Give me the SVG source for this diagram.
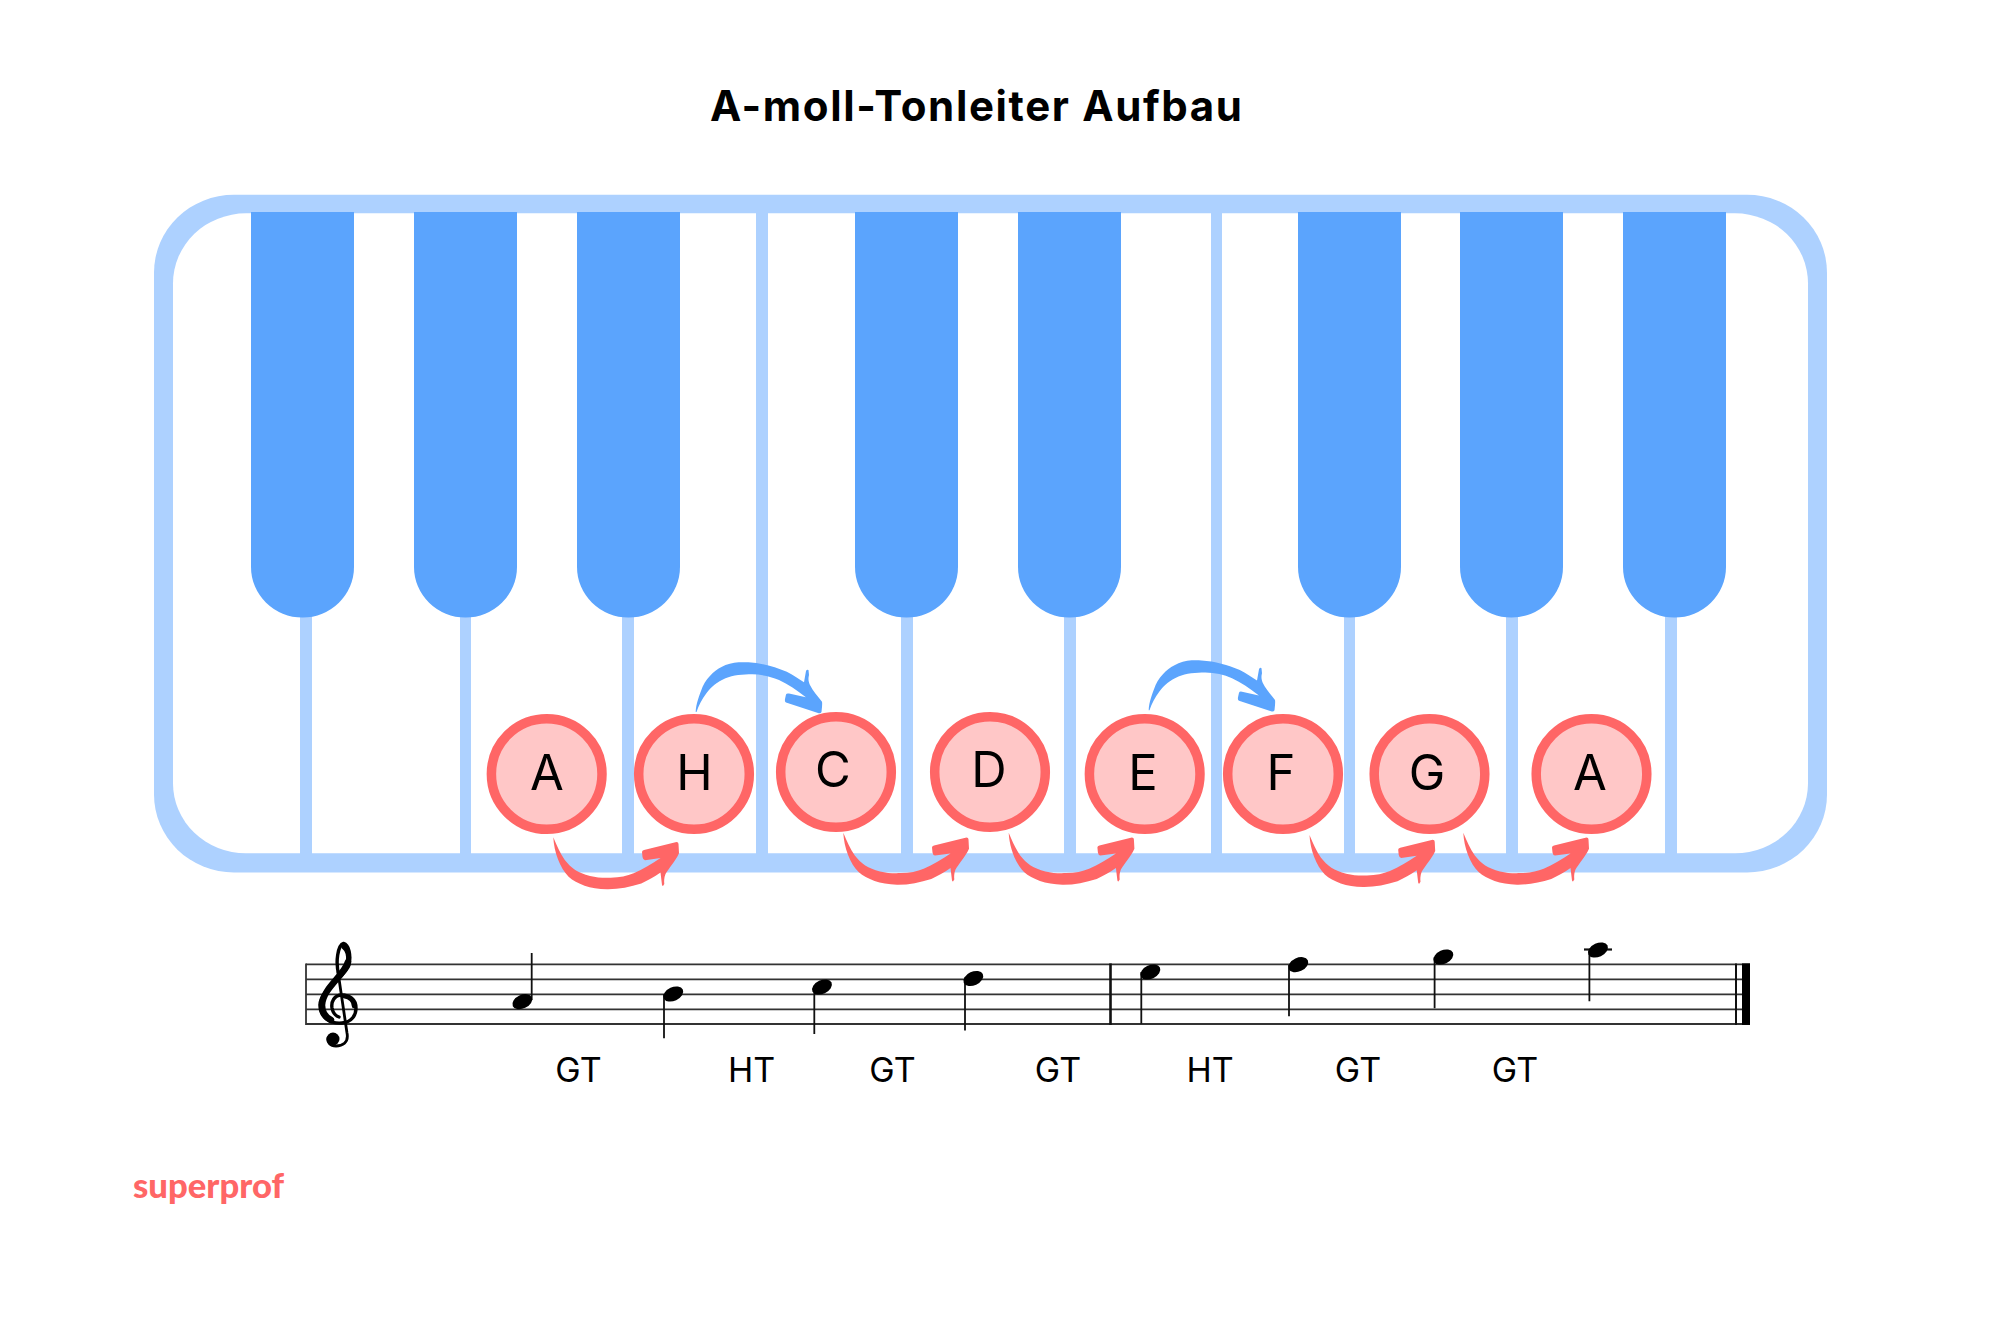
<svg xmlns="http://www.w3.org/2000/svg" width="1995" height="1332" viewBox="0 0 1995 1332">
<style>
text{font-family:"Inter","Liberation Sans",sans-serif;fill:#000}
.title{font-size:42px;font-weight:700;text-anchor:middle}
.note{font-size:49px;text-anchor:middle}
.step{font-size:34px;text-anchor:middle}
.logo{font-family:"Lato","Liberation Sans",sans-serif;font-size:35px;font-weight:900;fill:#ff6666}
.div{fill:#add1ff}
.key{fill:#5ba4fd}
.circ{fill:#ffc7c7;stroke:#ff6666;stroke-width:9.5}
.staff{stroke:#333;stroke-width:1.8;fill:none}
.stem{stroke:#111;stroke-width:1.8}
.head{fill:#000}
.clef{fill:none;stroke:#000;stroke-linecap:round;stroke-linejoin:round}
</style>
<defs>
<path id="red" fill="#ff6666" d="M553.3 837.3C557 846 560 853 564.8 860C571 868 578 873 590 876C597 877.7 604 878 610.7 877.7C620 877.5 627 876 633.7 873.3C643 869 652 864 660.5 858L645 860.2Q643 860 642.5 857L642 852Q642 850.7 644 850L676.5 842Q678.5 842 678.5 844L679 853.3C675 862 669 868 665.5 874C664 878 664 881 664.3 884L663 886Q662.4 886 662 885L660.5 872.5C654 877 648 880 641.3 883.5C630 887 618 889.5 607 889.3C590 889 577 884 568.6 876.7C560 868 554 852 553.3 837.3Z"/>
<path id="blue" fill="#5ba4fd" d="M695.7 712C696 704 699 696 702.6 686.7C708 676 716 669 725.5 665C733 662 741 662 748.5 662.3C762 663 775 667 786.8 671.7C793 675 799 679 804 682.3L806 671Q807 669 808.5 670L809 675C808 679 808.5 681 809.7 684.5C813 691 817.5 696 822 701.7Q822.5 704 821.5 712Q820.5 714 818 713L786 702.5Q784.5 702 785 699L786 694.5Q786.5 693 789 693.5L805.9 697.3C797 690 788 684.5 779 680C771 676.5 762 674.5 752.3 674.3C743 674.5 733 675 725.5 678.3C717 682 711 687 706.4 693.3C702 699 698.5 706 696.5 712Z"/>
</defs>
<rect width="1995" height="1332" fill="#fff"/>
<g id="title"><text class="title" x="976" y="121" textLength="532">A-moll-Tonleiter Aufbau</text></g>
<g id="keyboard">
<rect x="154" y="194.7" width="1673" height="677.8" rx="80" ry="78" fill="#add1ff"/>
<rect x="173" y="213.3" width="1635" height="640" rx="73" ry="70" fill="#fff"/>
<rect class="div" x="300" y="610" width="12" height="245"/>
<rect class="div" x="460" y="610" width="11" height="245"/>
<rect class="div" x="622" y="610" width="12" height="245"/>
<rect class="div" x="756" y="212" width="12" height="643"/>
<rect class="div" x="901" y="610" width="12" height="245"/>
<rect class="div" x="1064" y="610" width="12" height="245"/>
<rect class="div" x="1211" y="212" width="11" height="643"/>
<rect class="div" x="1344" y="610" width="11" height="245"/>
<rect class="div" x="1506" y="610" width="12" height="245"/>
<rect class="div" x="1665" y="610" width="12" height="245"/>
<path class="key" d="M251 212H354V567A51.5 50.5 0 0 1 251 567Z"/>
<path class="key" d="M414 212H517V567A51.5 50.5 0 0 1 414 567Z"/>
<path class="key" d="M577 212H680V567A51.5 50.5 0 0 1 577 567Z"/>
<path class="key" d="M855 212H958V567A51.5 50.5 0 0 1 855 567Z"/>
<path class="key" d="M1018 212H1121V567A51.5 50.5 0 0 1 1018 567Z"/>
<path class="key" d="M1298 212H1401V567A51.5 50.5 0 0 1 1298 567Z"/>
<path class="key" d="M1460 212H1563V567A51.5 50.5 0 0 1 1460 567Z"/>
<path class="key" d="M1623 212H1726V567A51.5 50.5 0 0 1 1623 567Z"/>
</g>
<g id="note-a1"><circle class="circ" cx="546.7" cy="774" r="55.3"/><text class="note" x="547" y="790">A</text></g>
<g id="note-h"><circle class="circ" cx="694" cy="774" r="55.3"/><text class="note" x="694.5" y="790">H</text></g>
<g id="note-c"><circle class="circ" cx="836" cy="772" r="55.3"/><text class="note" x="833" y="786.7">C</text></g>
<g id="note-d"><circle class="circ" cx="990" cy="772" r="55.3"/><text class="note" x="989" y="786.7">D</text></g>
<g id="note-e"><circle class="circ" cx="1144.7" cy="774" r="55.3"/><text class="note" x="1143" y="790">E</text></g>
<g id="note-f"><circle class="circ" cx="1283" cy="774" r="55.3"/><text class="note" x="1281" y="790">F</text></g>
<g id="note-g"><circle class="circ" cx="1429.5" cy="774" r="55.3"/><text class="note" x="1427" y="790">G</text></g>
<g id="note-a2"><circle class="circ" cx="1591.5" cy="774" r="55.3"/><text class="note" x="1590" y="790">A</text></g>
<g id="connectors">
<use href="#red"/>
<use href="#red" x="290" y="-4.6"/>
<use href="#red" x="455.4" y="-4.6"/>
<use href="#red" x="756.2" y="-2.3"/>
<use href="#red" x="910" y="-4.6"/>
<use href="#blue"/>
<use href="#blue" x="453" y="-1.8"/>
</g>
<g id="staff">
<path class="staff" d="M306 964.3H1750M306 979.3H1750M306 994.3H1750M306 1009.3H1750M306 1024H1750"/>
<path class="staff" d="M306 963.4V1024.9"/>
<path class="staff" style="stroke:#111;stroke-width:2.6" d="M1110.5 963.4V1024.9"/>
<path class="staff" style="stroke:#111;stroke-width:2" d="M1736 963.4V1024.9"/>
<rect x="1742" y="963.4" width="8" height="61.5" fill="#000"/>
<g id="clef">
<path class="clef" stroke-width="3.4" d="M339 976C335 962 338 945 343.5 943.5C349 945 351 955 349 965C346 976 320 990 320 1005C320 1019 332 1024 342 1023C352 1022 356 1015 356 1008C356 999 349 995 342 995C334 995 331 1002 332 1008C333 1013 336 1016 339 1017"/>
<path class="clef" stroke-width="6.5" d="M348 962C344 976 323 988 322 1005C322 1012 325 1017 331 1020"/>
<path class="clef" stroke-width="5" d="M344 947C348 950 349 956 348.5 962"/>
<path class="clef" stroke-width="4.5" d="M354 1006C354 1000 349 997 344 996"/>
<path class="clef" stroke-width="2.8" d="M338 972L347 1033C349 1043 342 1046 336 1046C330 1046 327 1042 328 1038"/>
<circle cx="333" cy="1039" r="6.5"/>
</g>
<g id="notes">
<path class="stem" d="M531.7 953V1000M664 994V1038.3M814.3 987V1034M965 978.5V1030.5M1141.3 972V1023.7M1289 965V1016.3M1434.6 957V1008.3M1589.4 950V1001.3"/>
<path class="stem" style="stroke-width:2.2" d="M1584 949.5H1612"/>
<ellipse class="head" cx="522.3" cy="1001.7" rx="10.5" ry="6.8" transform="rotate(-25 522.3 1001.7)"/>
<ellipse class="head" cx="673.3" cy="994" rx="10.5" ry="6.8" transform="rotate(-25 673.3 994)"/>
<ellipse class="head" cx="822" cy="987" rx="10.5" ry="6.8" transform="rotate(-25 822 987)"/>
<ellipse class="head" cx="973.3" cy="978.5" rx="10.5" ry="6.8" transform="rotate(-25 973.3 978.5)"/>
<ellipse class="head" cx="1150.4" cy="972" rx="10.5" ry="6.8" transform="rotate(-25 1150.4 972)"/>
<ellipse class="head" cx="1298.3" cy="964.7" rx="10.5" ry="6.8" transform="rotate(-25 1298.3 964.7)"/>
<ellipse class="head" cx="1443.4" cy="957" rx="10.5" ry="6.8" transform="rotate(-25 1443.4 957)"/>
<ellipse class="head" cx="1598" cy="950" rx="10.5" ry="6.8" transform="rotate(-25 1598 950)"/>
</g>
</g>
<g id="steps">
<text class="step" x="578.5" y="1082">GT</text>
<text class="step" x="751.5" y="1082">HT</text>
<text class="step" x="892.5" y="1082">GT</text>
<text class="step" x="1058" y="1082">GT</text>
<text class="step" x="1210" y="1082">HT</text>
<text class="step" x="1358" y="1082">GT</text>
<text class="step" x="1515" y="1082">GT</text>
</g>
<g id="logo"><text class="logo" x="133" y="1198" textLength="151" lengthAdjust="spacingAndGlyphs">superprof</text></g>
</svg>
